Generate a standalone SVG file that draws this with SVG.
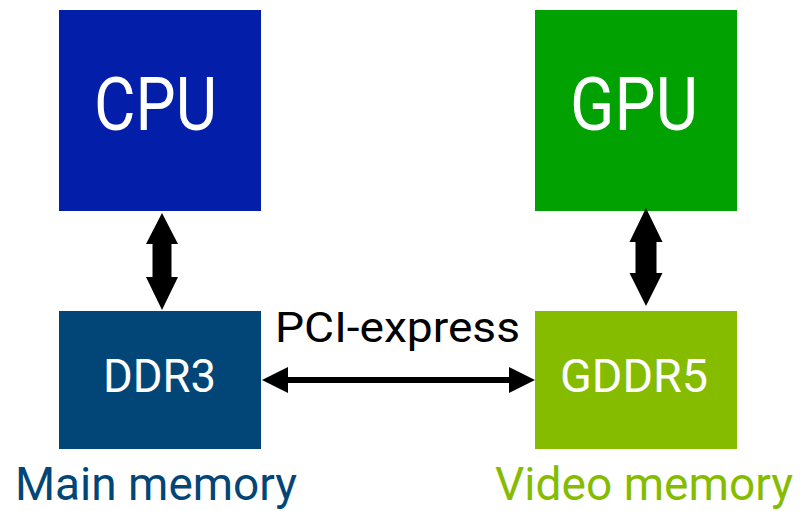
<svg xmlns="http://www.w3.org/2000/svg" width="800" height="511" viewBox="0 0 800 511">
<style>
text { font-family: Roboto, "DejaVu Sans", sans-serif; }
.lbl { fill: #ffffff; }
.big { font-size: 74px; }
.mid { font-size: 47px; }
.cap { font-size: 46px; }
.arrow { fill: #000000; }
</style>
<rect width="800" height="511" fill="#ffffff"/>
<g id="cpu">
  <rect x="59" y="10" width="202" height="201" fill="#031EA8"/>
  <text class="lbl big" x="94" y="130" textLength="123" lengthAdjust="spacingAndGlyphs">CPU</text>
</g>
<g id="gpu">
  <rect x="535" y="10" width="202" height="201" fill="#00A100"/>
  <text class="lbl big" x="570" y="130" textLength="128" lengthAdjust="spacingAndGlyphs">GPU</text>
</g>
<g id="ddr3">
  <rect x="59" y="311" width="202" height="138" fill="#014677"/>
  <text class="lbl mid" x="103" y="392" textLength="113" lengthAdjust="spacingAndGlyphs">DDR3</text>
</g>
<g id="gddr5">
  <rect x="535" y="311" width="202" height="138" fill="#86BC00"/>
  <text class="lbl mid" x="560" y="392" textLength="148" lengthAdjust="spacingAndGlyphs">GDDR5</text>
</g>
<g id="main-memory">
  <text class="cap" x="15" y="500" fill="#014677" textLength="282" lengthAdjust="spacingAndGlyphs">Main memory</text>
</g>
<g id="video-memory">
  <text class="cap" x="495" y="500" fill="#86BC00" textLength="298" lengthAdjust="spacingAndGlyphs">Video memory</text>
</g>
<g id="connectors">
  <polygon class="arrow" points="162,213 178,244 171.5,244 171.5,277 178,277 162,310 146,277 152.5,277 152.5,244 146,244"/>
  <polygon class="arrow" points="646,208 662.5,242 656.5,242 656.5,273 662.5,273 646,306 629.5,273 635.5,273 635.5,242 629.5,242"/>
  <line x1="286" y1="380" x2="511" y2="380" stroke="#000000" stroke-width="6"/>
  <polygon class="arrow" points="262,380 288,367 288,393"/>
  <polygon class="arrow" points="535,380 509,367 509,393"/>
  <text x="275" y="342" font-size="42" fill="#000000" textLength="245" lengthAdjust="spacingAndGlyphs">PCI-express</text>
</g>
</svg>
